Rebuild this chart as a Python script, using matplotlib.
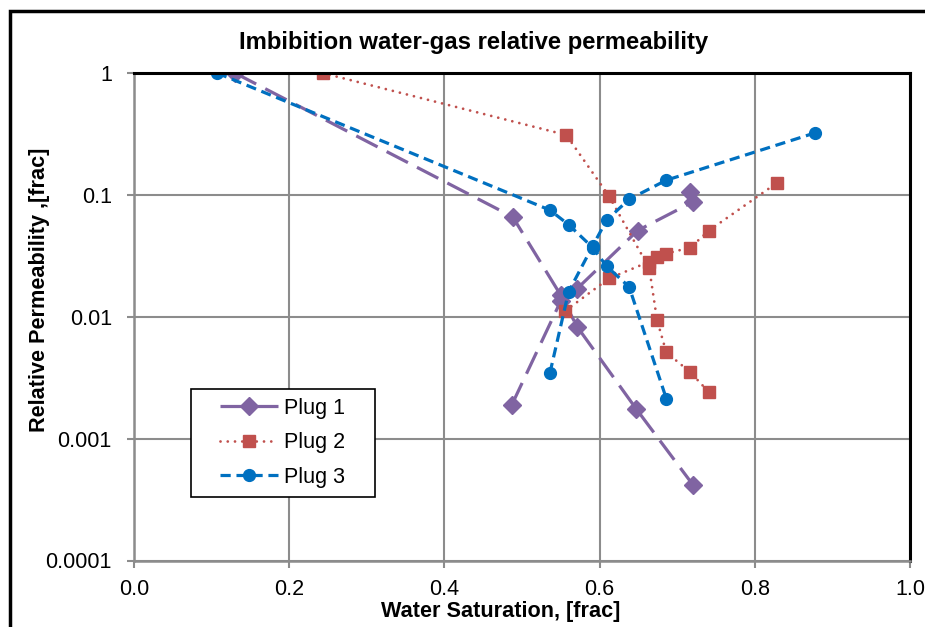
import numpy as np
import matplotlib
matplotlib.use("Agg")
import matplotlib.pyplot as plt
from matplotlib.patches import Rectangle
from matplotlib.ticker import FixedLocator, FixedFormatter, NullLocator

plt.rcParams['font.family'] = ['Liberation Sans', 'DejaVu Sans']

nan = np.nan
# Plug 1: gas curve, break, water curve
plug1_sw = [0.130, 0.488, 0.550, 0.571, 0.647, 0.720, nan,
            0.487, 0.550, 0.571, 0.649, 0.721, 0.717]
plug1_kr = [1.0, 0.066, 0.015, 0.0083, 0.00176, 0.00042, nan,
            0.0019, 0.0135, 0.017, 0.051, 0.088, 0.105]
# Plug 2
plug2_sw = [0.243, 0.557, 0.612, 0.664, 0.674, 0.686, 0.717, 0.741, nan,
            0.556, 0.612, 0.664, 0.674, 0.686, 0.717, 0.741, 0.829]
plug2_kr = [1.0, 0.31, 0.098, 0.025, 0.0094, 0.0051, 0.0035, 0.0024, nan,
            0.0112, 0.0206, 0.0283, 0.031, 0.033, 0.037, 0.051, 0.126]
# Plug 3
plug3_sw = [0.107, 0.536, 0.560, 0.591, 0.609, 0.638, 0.686, nan,
            0.536, 0.560, 0.591, 0.609, 0.638, 0.686, 0.878]
plug3_kr = [1.0, 0.075, 0.057, 0.037, 0.026, 0.0176, 0.00213, nan,
            0.00346, 0.016, 0.038, 0.062, 0.092, 0.132, 0.323]

series_names = ["Plug 1", "Plug 2", "Plug 3"]
x_ticks = [0.0, 0.2, 0.4, 0.6, 0.8, 1.0]
x_tick_labels = ["0.0", "0.2", "0.4", "0.6", "0.8", "1.0"]
y_ticks = [0.0001, 0.001, 0.01, 0.1, 1]
y_tick_labels = ["0.0001", "0.001", "0.01", "0.1", "1"]

W, H = 925, 627
fig = plt.figure(figsize=(W / 100, H / 100), dpi=100)
ax_l, ax_r, ax_t, ax_b = 134, 910, 73, 560.5
ax = fig.add_axes([ax_l / W, 1 - ax_b / H, (ax_r - ax_l) / W, (ax_b - ax_t) / H])

purple = "#8064A2"
red = "#C0504D"
blue = "#0070C0"
lw = 2.3

l1, = ax.plot(plug1_sw, plug1_kr, color=purple, lw=lw, dashes=(7.5, 3.2),
              marker="D", ms=9.5, mfc=purple, mec=purple, label=series_names[0])
l2, = ax.plot(plug2_sw, plug2_kr, color=red, lw=2.0, dashes=(0.01, 2.6),
              dash_capstyle="round", marker="s", ms=8, mfc=red, mec=red,
              label=series_names[1])
l3, = ax.plot(plug3_sw, plug3_kr, color=blue, lw=lw, dashes=(3.2, 1.8),
              marker="o", ms=8.5, mfc=blue, mec=blue, label=series_names[2])

ax.set_yscale("log")
ax.set_xlim(0, 1)
ax.set_ylim(0.0001, 1)
ax.xaxis.set_major_locator(FixedLocator(x_ticks))
ax.xaxis.set_major_formatter(FixedFormatter(x_tick_labels))
ax.yaxis.set_major_locator(FixedLocator(y_ticks))
ax.yaxis.set_major_formatter(FixedFormatter(y_tick_labels))
ax.yaxis.set_minor_locator(NullLocator())
ax.xaxis.set_minor_locator(NullLocator())

grid_c = "#8C8C8C"
ax.grid(True, color=grid_c, lw=1.5)
ax.set_axisbelow(True)
for s in ["left", "bottom"]:
    ax.spines[s].set_color(grid_c)
    ax.spines[s].set_linewidth(1.8)
for s in ["top", "right"]:
    ax.spines[s].set_color("black")
    ax.spines[s].set_linewidth(2.2)
ax.tick_params(axis="both", which="major", direction="out", length=5,
               width=1.5, color=grid_c, labelsize=15.5, labelcolor="black")
ax.tick_params(axis="x", pad=8)
ax.tick_params(axis="y", pad=11)

fig.text(474 / W, 1 - 42 / H, "Imbibition water-gas relative permeability",
         ha="center", va="center", fontsize=17.2, fontweight="bold")
fig.text(501 / W, 1 - 611 / H, "Water Saturation, [frac]",
         ha="center", va="center", fontsize=15.6, fontweight="bold")
fig.text(40 / W, 1 - 290 / H, "Relative Permeability ,[frac]",
         ha="center", va="center", rotation=90, fontsize=15.6, fontweight="bold")

# legend: box drawn separately to match the wide padding of the original
box_l, box_r, box_t, box_b = 191, 375, 389, 497
to_ax = lambda px, py: ((px - ax_l) / (ax_r - ax_l), (ax_b - py) / (ax_b - ax_t))
bx0, by0 = to_ax(box_l, box_b)
bx1, by1 = to_ax(box_r, box_t)
ax.add_patch(Rectangle((bx0, by0), bx1 - bx0, by1 - by0, transform=ax.transAxes,
                       facecolor="white", edgecolor="black", lw=1.2, zorder=4))
lx, ly = to_ax(216, 492)
leg = ax.legend(handles=[l1, l2, l3], loc="lower left",
                bbox_to_anchor=(lx, ly), borderaxespad=0,
                fontsize=15.5, frameon=False,
                handlelength=2.7, handletextpad=0.25, labelspacing=0.63,
                borderpad=0.2)
leg.set_zorder(5)

# outer chart frame (extends past right and bottom edges)
fig.patches.append(Rectangle((10 / W, -0.2), 1.2, 1 - 11 / H + 0.2,
                             transform=fig.transFigure, fill=False,
                             edgecolor="black", lw=2.5, clip_on=False))

fig.savefig("out.png", dpi=100)
